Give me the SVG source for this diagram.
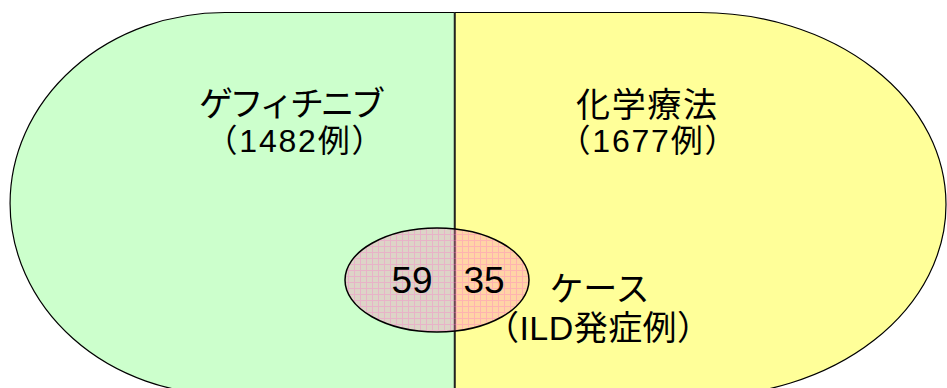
<svg xmlns="http://www.w3.org/2000/svg" width="947" height="388" viewBox="0 0 947 388">
<style>
.lbl{font-family:"Liberation Sans","Noto Sans CJK JP",sans-serif;fill:#000;text-anchor:middle}
.big{font-size:34px}
.mid{font-size:32px}
.num{font-size:37px}
.shape{stroke:#000;stroke-width:1.2}
</style>
<defs>
<pattern id="grid" x="0" y="0" width="6" height="6" patternUnits="userSpaceOnUse">
<rect x="0" y="0" width="6" height="6" fill="#FF80C0" fill-opacity="0.34"/>
<rect x="0" y="0" width="6" height="1" fill="#FF66CC" fill-opacity="0.3"/>
<rect x="0" y="1" width="1" height="5" fill="#FF66CC" fill-opacity="0.3"/>
</pattern>
</defs>
<g id="gefitinib">
<path class="shape" d="M455,12.5 H225 A215,191 0 0 0 225,394.5 H455 Z" fill="#CCFFCC"/>
<text class="lbl big" x="292" y="116" textLength="186" lengthAdjust="spacing">ゲフィチニブ</text>
<text class="lbl mid" x="294.5" y="152" textLength="178" lengthAdjust="spacing">（1482例）</text>
</g>
<g id="chemo">
<path class="shape" d="M455,12.5 H700 A246,192 0 0 1 700,396.5 H455 Z" fill="#FFFF99"/>
<text class="lbl big" x="646.5" y="117" textLength="141" lengthAdjust="spacing">化学療法</text>
<text class="lbl mid" x="647.5" y="152" textLength="178" lengthAdjust="spacing">（1677例）</text>
</g>
<g id="connectors">
<line x1="454.5" y1="12" x2="454.5" y2="388" stroke="#222" stroke-width="1.5"/>
</g>
<g id="ild">
<ellipse cx="437" cy="280" rx="92" ry="52" fill="url(#grid)" stroke="#000" stroke-width="1.5"/>
<text class="lbl num" x="412" y="293">59</text>
<text class="lbl num" x="484" y="293">35</text>
</g>
<g id="case-label">
<text class="lbl big" x="599.5" y="301" textLength="100" lengthAdjust="spacing">ケース</text>
<text class="lbl big" x="598" y="340" textLength="226" lengthAdjust="spacing">（ILD発症例）</text>
</g>
</svg>
